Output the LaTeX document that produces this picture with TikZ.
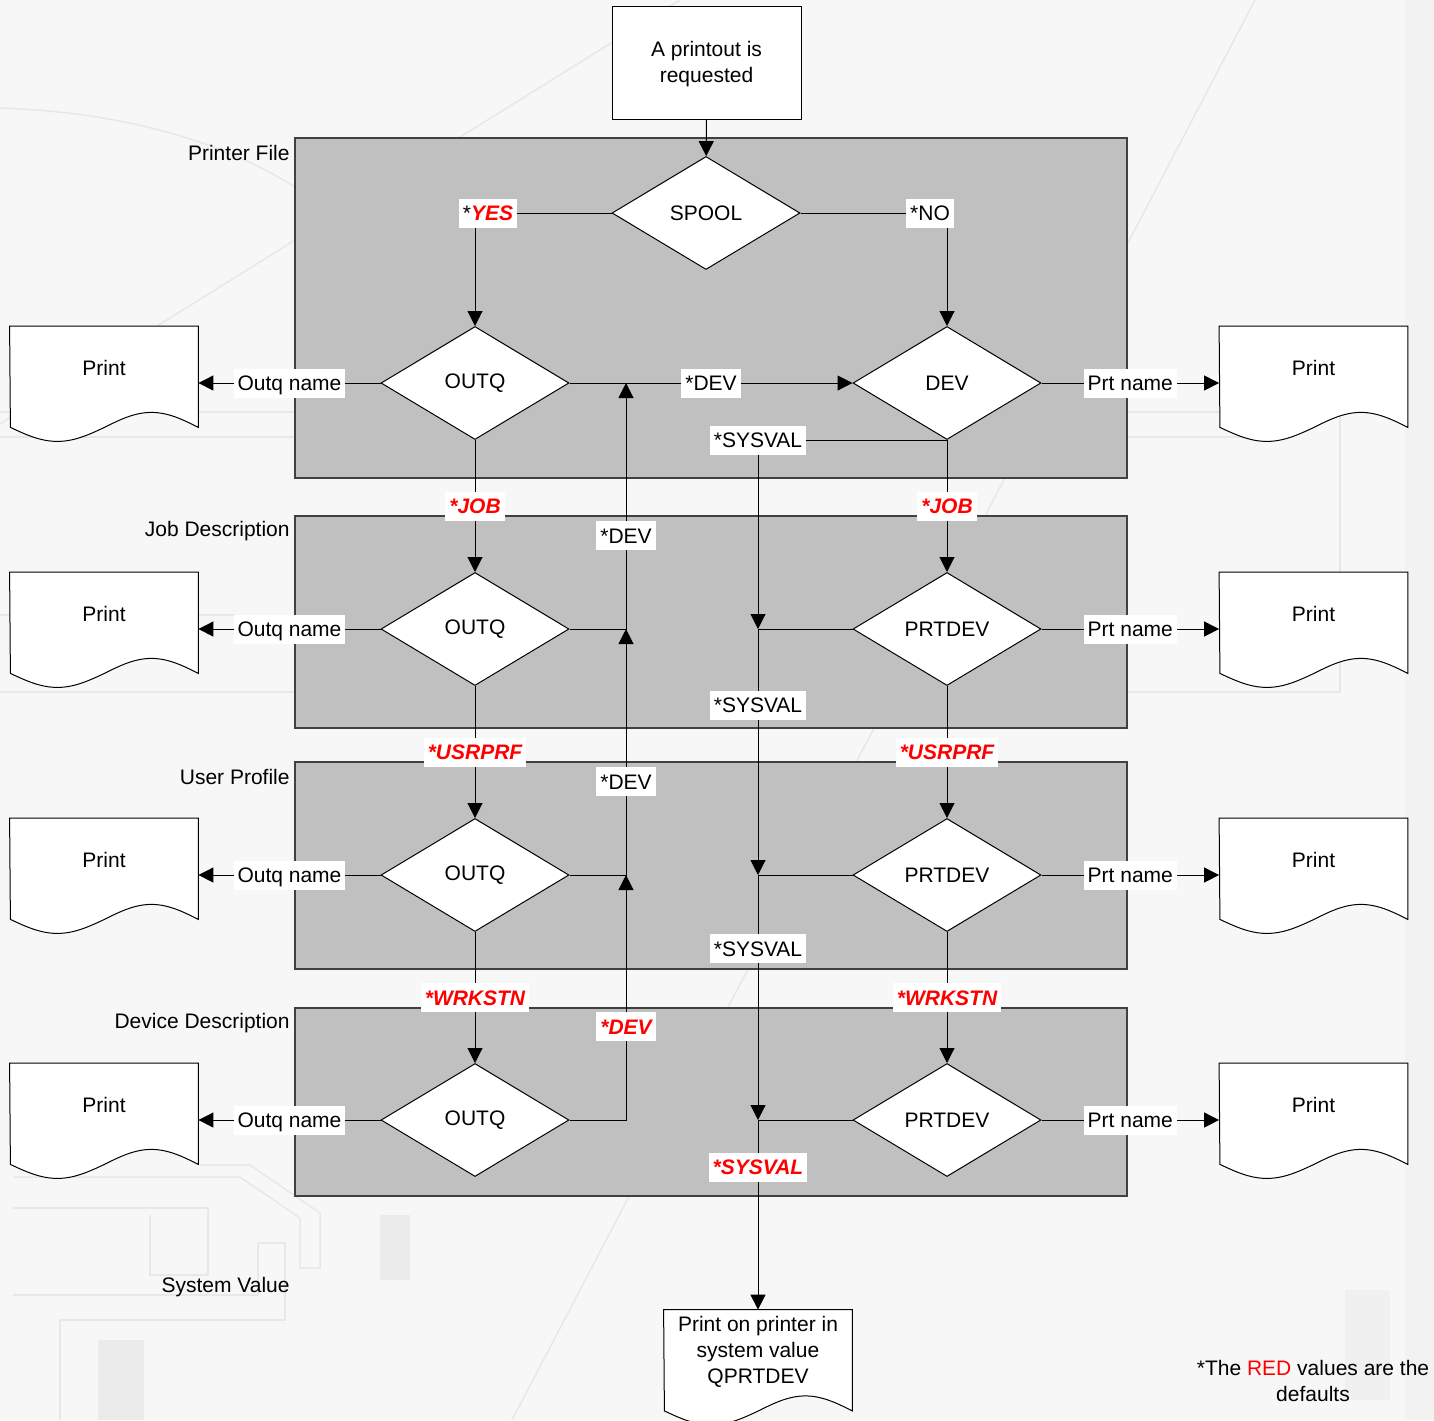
\documentclass[tikz,border=0pt]{standalone}
\usepackage{fontspec}
\setmainfont{Liberation Sans}
\usetikzlibrary{arrows.meta,positioning,shapes.geometric}
\definecolor{spoolred}{RGB}{255,0,0}
\definecolor{panelgrey}{RGB}{192,192,192}
\definecolor{paneledge}{RGB}{64,64,64}
\definecolor{pagegrey}{RGB}{247,247,247}
\definecolor{tracegrey}{RGB}{232,232,232}

\newcommand{\redval}[1]{\textcolor{spoolred}{\bfseries\itshape #1}}
% printout document: frame node, wavy outline, text node
\newcommand{\printdoc}[3]{%
  \node[docframe] (#1) at #2 {};
  \path[docline] (#1.north west) -- (#1.north east) -- ([yshift=6.25pt]#1.south east)
    sin ++(-47,-15) cos ++(-47,15) sin ++(-47,14) cos ++(-47,-14) -- cycle;
  \node[doctext] (#1t) at ([yshift=7.5pt]#1.center) {#3};
}

\begin{document}
\begin{tikzpicture}[
  x=0.5pt,y=-0.5pt,
  font=\fontsize{10.5}{13}\selectfont,
  panel/.style={draw=paneledge,fill=panelgrey,line width=0.75pt},
  decision/.style={diamond,draw=black,fill=white,line width=0.5pt,
    minimum width=94pt,minimum height=56.5pt,inner sep=0pt},
  startbox/.style={rectangle,draw=black,fill=white,line width=0.5pt,
    minimum width=94.5pt,minimum height=56.5pt,align=center},
  docframe/.style={rectangle,minimum width=94pt,minimum height=56.5pt,inner sep=0pt},
  doctext/.style={align=center,inner sep=0pt},
  docline/.style={draw=black,fill=white,line width=0.5pt},
  lbl/.style={fill=white,inner sep=2pt,text height=9pt,text depth=1.5pt},
  tag/.style={anchor=east,inner sep=0pt},
  arr/.style={-{Triangle[length=7.5pt,width=7.5pt]},line width=0.5pt},
  trace/.style={draw=tracegrey,line width=0.75pt}
]
\fill[pagegrey] (0,0) rectangle (1434,1420);
\useasboundingbox (0,0) rectangle (1434,1420);

% faint background traces
\fill[black!5] (1405,0) rectangle (1434,1420);
\draw[trace] (680,0) -- (0,424);
\draw[trace] (1255,0) -- (512,1420);
\draw[trace] (0,108) .. controls (120,112) and (220,140) .. (295,187);
\draw[trace] (0,412) -- (295,412);
\draw[trace] (0,437) -- (295,437);
\draw[trace] (0,615) -- (235,615);
\draw[trace] (0,692) -- (295,692);
\draw[trace] (1127,412) -- (1340,412) -- (1340,692) -- (1127,692);
\draw[trace] (1127,437) -- (1285,437);
\draw[trace] (13,1177) -- (240,1177) -- (300,1218) -- (300,1268) -- (320,1268) -- (320,1213) -- (250,1165) -- (200,1165);
\draw[trace] (13,1295) -- (258,1295) -- (258,1243) -- (285,1243) -- (285,1320) -- (60,1320) -- (60,1420);
\draw[trace] (13,1208) -- (208,1208) -- (208,1275) -- (150,1275) -- (150,1215);
\fill[black!8] (380,1215) rectangle (410,1280);
\fill[black!8] (98,1340) rectangle (144,1420);
\fill[black!6] (1345,1290) rectangle (1390,1400);

% panels
\draw[panel] (295,138) rectangle (1127,478);
\draw[panel] (295,516) rectangle (1127,728);
\draw[panel] (295,762) rectangle (1127,969);
\draw[panel] (295,1008) rectangle (1127,1196);

\node[tag] (tagpf) at (290,153) {Printer File};
\node[tag] (tagjd) at (290,531) {Job Description};
\node[tag] (tagup) at (290,777) {User Profile};
\node[tag] (tagdd) at (290,1023) {Device Description};
\node[tag] (tagsv) at (290,1287) {System Value};

% decisions
\node[startbox] (req) at (706.5,62.5) {\rule{0pt}{9.6pt}A printout is\\requested};
\node[decision] (spool) at (706,213) {SPOOL};
\node[decision] (oq1) at (475,383) {OUTQ};
\node[decision] (dev) at (947,383) {DEV};
\foreach \r/\y in {2/629,3/875,4/1120} {
  \node[decision] (oq\r) at (475,\y) {OUTQ};
  \node[decision] (pd\r) at (947,\y) {PRTDEV};
}

% printouts
\foreach \r/\y in {1/383,2/629,3/875,4/1120} {
  \printdoc{pl\r}{(104,\y)}{Print}
  \printdoc{pr\r}{(1313.5,\y)}{Print}
}
\printdoc{pend}{(758,1366.5)}{Print on printer in\\system value\\QPRTDEV}

\coordinate (up1) at (626,383);
\coordinate (up2) at (626,629);
\coordinate (up3) at (626,875);
\coordinate (dn1) at (758,629);
\coordinate (dn2) at (758,875);
\coordinate (dn3) at (758,1120);

\draw[arr] (req) -- (spool);
\draw[arr] (spool.west) -| node[lbl,xshift=6.5pt] {*\redval{YES}} (oq1.north);
\draw[arr] (spool.east) -| node[lbl,xshift=-8.5pt] {*NO} (dev.north);
\draw[arr] (oq1.east) -- node[lbl] {*DEV} (dev.west);
\draw[arr] (oq1.west) -- node[lbl] {Outq name} (pl1.east);
\draw[arr] (dev.east) -- node[lbl] {Prt name} (pr1.west);
\foreach \r in {2,3,4} {
  \draw[arr] (oq\r.west) -- node[lbl] {Outq name} (pl\r.east);
  \draw[arr] (pd\r.east) -- node[lbl] {Prt name} (pr\r.west);
}

% defaults going down
\draw[arr] (oq1.south) -- node[lbl] {\redval{*JOB}} (oq2.north);
\draw[arr] (dev.south) -- node[lbl] {\redval{*JOB}} (pd2.north);
\draw[arr] (oq2.south) -- node[lbl] {\redval{*USRPRF}} (oq3.north);
\draw[arr] (pd2.south) -- node[lbl] {\redval{*USRPRF}} (pd3.north);
\draw[arr] (oq3.south) -- node[lbl] {\redval{*WRKSTN}} (oq4.north);
\draw[arr] (pd3.south) -- node[lbl] {\redval{*WRKSTN}} (pd4.north);

% *DEV back to the device
\draw[arr] (oq2.east) -| node[lbl,pos=0.69] {*DEV} (up1);
\draw[arr] (oq3.east) -| node[lbl,pos=0.69] {*DEV} (up2);
\draw[arr] (oq4.east) -| node[lbl,pos=0.69] {\redval{*DEV}} (up3);

% *SYSVAL to the system value
\draw[arr] (dev.south) -| node[lbl] {*SYSVAL} (dn1);
\draw[arr] (pd2.west) -- (dn1) -- node[lbl,pos=0.31] {*SYSVAL} (dn2);
\draw[arr] (pd3.west) -- (dn2) -- node[lbl,pos=0.3] {*SYSVAL} (dn3);
\draw[arr] (pd4.west) -- (dn3) -- node[lbl,pos=0.25] {\redval{*SYSVAL}} (pend.north);

\node[align=center] (note) at (1313,1381) {*The \textcolor{spoolred}{RED} values are the\\defaults};
\end{tikzpicture}
\end{document}
